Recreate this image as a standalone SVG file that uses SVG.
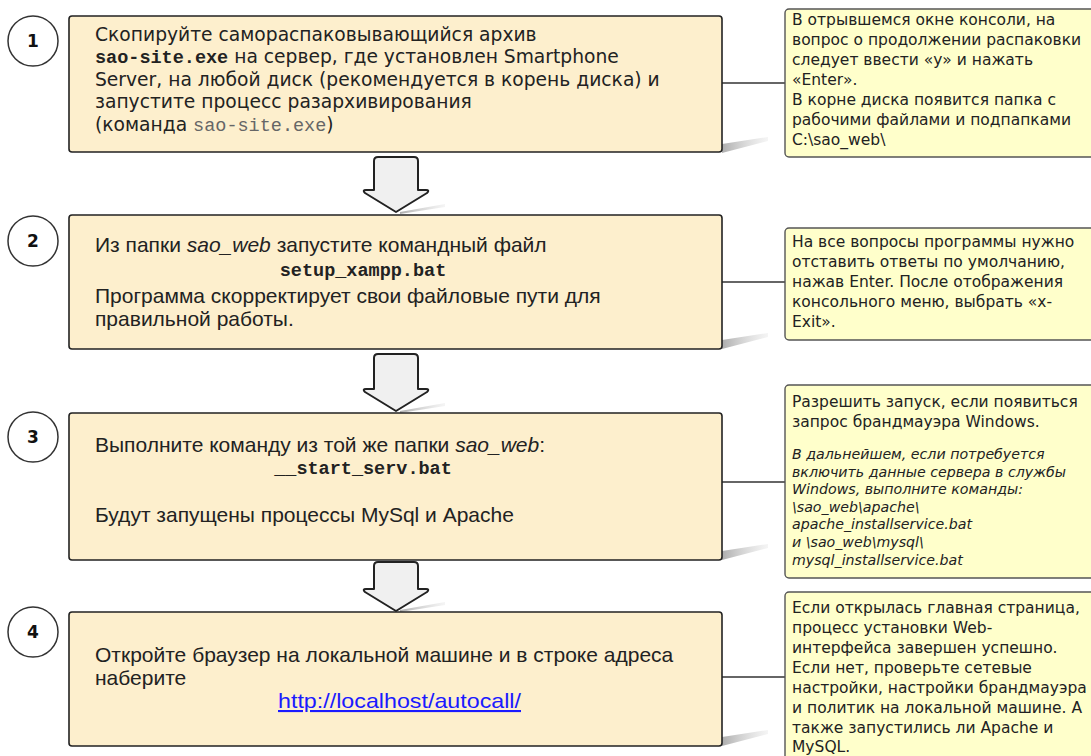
<svg xmlns="http://www.w3.org/2000/svg" width="1091" height="756" viewBox="0 0 1091 756">
<style>
.box{fill:#fdefcd;stroke:#222;stroke-width:1.6}
.note{fill:#ffffcb;stroke:#555;stroke-width:1.4}
.circ{fill:#fff;stroke:#333;stroke-width:1.5}
.num{font-family:"DejaVu Sans",sans-serif;font-weight:bold;font-size:17px;fill:#111;text-anchor:middle}
.t1{font-family:"DejaVu Sans",sans-serif;font-size:18.7px;fill:#222}
.t2{font-family:"Liberation Sans",Arial,sans-serif;font-size:21px;fill:#222}
.mono{font-family:"Liberation Mono","Courier New",monospace;font-weight:bold;font-size:18.5px;fill:#222}
.grey{font-family:"Liberation Mono","Courier New",monospace;font-weight:normal;font-size:18.5px;fill:#666}
.nt{font-family:"DejaVu Sans",sans-serif;font-size:15.5px;fill:#222}
.ni{font-family:"DejaVu Sans",sans-serif;font-size:14.2px;font-style:italic;fill:#222}
.link{fill:#1a1aff;text-decoration:underline}
.arrow{fill:#f0f0f0;stroke:#222;stroke-width:2;stroke-linejoin:round}
.conn{stroke:#333;stroke-width:1.4;fill:none}
.shadow{fill:url(#sh)}
</style>
<defs>
<linearGradient id="sh" x1="0" y1="0" x2="1" y2="0">
<stop offset="0" stop-color="#999" stop-opacity="0.8"/>
<stop offset="1" stop-color="#ccc" stop-opacity="0.2"/>
</linearGradient>
</defs>

<g id="connectors">
<line class="conn" x1="722" y1="83" x2="785" y2="83"/>
<line class="conn" x1="722" y1="282" x2="785" y2="282"/>
<line class="conn" x1="722" y1="482" x2="785" y2="482"/>
<line class="conn" x1="722" y1="677" x2="785" y2="677"/>
<g id="arrows">
<polygon class="shadow" points="400,212 445,204 445,207 400,214"/>
<path class="arrow" d="M378,157 H414 Q418,157 418,161 V190 H426 Q430,190 427,193 L396,212 L365,193 Q362,190 366,190 H374 V161 Q374,157 378,157 Z"/>
<polygon class="shadow" points="400,411 445,403 445,406 400,413"/>
<path class="arrow" d="M378,354 H414 Q418,354 418,358 V389 H426 Q430,389 427,392 L396,411 L365,392 Q362,389 366,389 H374 V358 Q374,354 378,354 Z"/>
<polygon class="shadow" points="400,610 445,602 445,605 400,612"/>
<path class="arrow" d="M378,562 H414 Q418,562 418,566 V589 H426 Q430,589 427,592 L396,611 L365,592 Q362,589 366,589 H374 V566 Q374,562 378,562 Z"/>
</g>
</g>

<g id="step1">
<polygon class="shadow" points="722,144 768,137 768,141 722,153"/>
<circle class="circ" cx="33" cy="41" r="25"/>
<text class="num" x="33" y="47">1</text>
<rect class="box" x="69" y="16" width="653" height="136" rx="3"/>
<text class="t1" x="95" y="41">Скопируйте самораспаковывающийся архив</text>
<text class="t1" x="95" y="63"><tspan class="mono">sao-site.exe</tspan> на сервер, где установлен Smartphone</text>
<text class="t1" x="95" y="86">Server, на любой диск (рекомендуется в корень диска) и</text>
<text class="t1" x="95" y="108">запустите процесс разархивирования</text>
<text class="t1" x="95" y="131">(команда <tspan class="grey">sao-site.exe</tspan>)</text>
</g>

<g id="note1">
<rect class="note" x="785" y="9" width="320" height="148" rx="4"/>
<text class="nt" x="792" y="25">В отрывшемся окне консоли, на</text>
<text class="nt" x="792" y="45">вопрос о продолжении распаковки</text>
<text class="nt" x="792" y="65">следует ввести «у» и нажать</text>
<text class="nt" x="792" y="85">«Enter».</text>
<text class="nt" x="792" y="105">В корне диска появится папка с</text>
<text class="nt" x="792" y="125">рабочими файлами и подпапками</text>
<text class="nt" x="792" y="145">C:\sao_web\</text>
</g>

<g id="step2">
<polygon class="shadow" points="722,340 768,333 768,337 722,349"/>
<circle class="circ" cx="33" cy="241" r="25"/>
<text class="num" x="33" y="247">2</text>
<rect class="box" x="69" y="215" width="653" height="134" rx="3"/>
<text class="t2" x="95" y="252">Из папки <tspan font-style="italic">sao_web</tspan> запустите командный файл</text>
<text class="mono" x="363" y="276" text-anchor="middle">setup_xampp.bat</text>
<text class="t2" x="95" y="303">Программа скорректирует свои файловые пути для</text>
<text class="t2" x="95" y="326">правильной работы.</text>
</g>

<g id="note2">
<rect class="note" x="785" y="228" width="320" height="112" rx="4"/>
<text class="nt" x="792" y="247">На все вопросы программы нужно</text>
<text class="nt" x="792" y="267">отставить ответы по умолчанию,</text>
<text class="nt" x="792" y="287">нажав Enter. После отображения</text>
<text class="nt" x="792" y="307">консольного меню, выбрать «x-</text>
<text class="nt" x="792" y="327">Exit».</text>
</g>

<g id="step3">
<polygon class="shadow" points="722,551 768,544 768,548 722,560"/>
<circle class="circ" cx="33" cy="437" r="25"/>
<text class="num" x="33" y="443">3</text>
<rect class="box" x="69" y="413" width="653" height="147" rx="3"/>
<text class="t2" x="95" y="452">Выполните команду из той же папки <tspan font-style="italic">sao_web</tspan>:</text>
<text class="mono" x="363" y="474" text-anchor="middle">__start_serv.bat</text>
<text class="t2" x="95" y="522">Будут запущены процессы MySql и Apache</text>
</g>

<g id="note3">
<rect class="note" x="785" y="385" width="320" height="193" rx="4"/>
<text class="nt" x="792" y="407">Разрешить запуск, если появиться</text>
<text class="nt" x="792" y="427">запрос брандмауэра Windows.</text>
<text class="ni" x="792" y="459">В дальнейшем, если потребуется</text>
<text class="ni" x="792" y="477">включить данные сервера в службы</text>
<text class="ni" x="792" y="494">Windows, выполните команды:</text>
<text class="ni" x="792" y="512">\sao_web\apache\</text>
<text class="ni" x="792" y="529">apache_installservice.bat</text>
<text class="ni" x="792" y="547">и \sao_web\mysql\</text>
<text class="ni" x="792" y="565">mysql_installservice.bat</text>
</g>

<g id="step4">
<polygon class="shadow" points="722,737 768,730 768,734 722,746"/>
<circle class="circ" cx="33" cy="632" r="25"/>
<text class="num" x="33" y="638">4</text>
<rect class="box" x="69" y="612" width="653" height="134" rx="3"/>
<text class="t2" x="95" y="662">Откройте браузер на локальной машине и в строке адреса</text>
<text class="t2" x="95" y="685">наберите</text>
<text class="t2 link" x="278" y="708" textLength="243" lengthAdjust="spacingAndGlyphs">http://localhost/autocall/</text>
</g>

<g id="note4">
<rect class="note" x="785" y="592" width="320" height="180" rx="4"/>
<text class="nt" x="792" y="613">Если открылась главная страница,</text>
<text class="nt" x="792" y="633">процесс установки Web-</text>
<text class="nt" x="792" y="653">интерфейса завершен успешно.</text>
<text class="nt" x="792" y="673">Если нет, проверьте сетевые</text>
<text class="nt" x="792" y="693">настройки, настройки брандмауэра</text>
<text class="nt" x="792" y="713">и политик на локальной машине. А</text>
<text class="nt" x="792" y="733">также запустились ли Apache и</text>
<text class="nt" x="792" y="752">MySQL.</text>
</g>
</svg>
